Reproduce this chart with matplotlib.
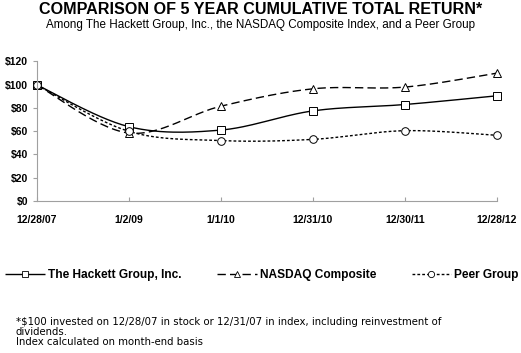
import numpy as np
import matplotlib
matplotlib.use("Agg")
import matplotlib.pyplot as plt
from matplotlib.lines import Line2D

dates = ["12/28/07", "1/2/09", "1/1/10", "12/31/10", "12/30/11", "12/28/12"]
hackett = [100, 64, 61, 77.5, 83, 90.5]
nasdaq = [100, 58.5, 81.5, 96.5, 98, 110]
peer = [100, 60, 52, 53, 60.5, 56.5]
yticks = [0, 20, 40, 60, 80, 100, 120]


def smooth(xs, ys, n=30):
    xs = np.asarray(xs, float)
    ys = np.asarray(ys, float)
    px = np.concatenate([[xs[0]], xs, [xs[-1]]])
    py = np.concatenate([[ys[0]], ys, [ys[-1]]])
    ox, oy = [], []
    for i in range(1, len(px) - 2):
        p0x, p1x, p2x, p3x = px[i - 1], px[i], px[i + 1], px[i + 2]
        p0y, p1y, p2y, p3y = py[i - 1], py[i], py[i + 1], py[i + 2]
        c1x = p1x + (p2x - p0x) / 6
        c1y = p1y + (p2y - p0y) / 6
        c2x = p2x - (p3x - p1x) / 6
        c2y = p2y - (p3y - p1y) / 6
        t = np.linspace(0, 1, n)
        bx = (1 - t) ** 3 * p1x + 3 * (1 - t) ** 2 * t * c1x + 3 * (1 - t) * t ** 2 * c2x + t ** 3 * p2x
        by = (1 - t) ** 3 * p1y + 3 * (1 - t) ** 2 * t * c1y + 3 * (1 - t) * t ** 2 * c2y + t ** 3 * p2y
        ox.extend(bx)
        oy.extend(by)
    return np.array(ox), np.array(oy)


fig = plt.figure(figsize=(5.21, 3.53), dpi=100)
ax = fig.add_axes([36.5 / 521, 1 - 201 / 353, (497 - 36.5) / 521, (201 - 61.5) / 353])

x = np.arange(len(dates))
series = [
    (hackett, "The Hackett Group, Inc.", "s", (0, ()), ),
    (nasdaq, "NASDAQ Composite", "^", (0, (6, 3))),
    (peer, "Peer Group", "o", (0, (2, 1.5))),
]
handles = []
for vals, lab, mk, ls in series:
    sx, sy = smooth(x, vals)
    ax.plot(sx, sy, color="black", lw=1.0, linestyle=ls)
    ax.plot(x, vals, linestyle="none", marker=mk, markersize=5.5, markerfacecolor="white",
            markeredgecolor="black", markeredgewidth=0.7)
    handles.append(Line2D([0], [0], color="black", lw=1.0, linestyle=ls, marker=mk,
                          markersize=4.5, markerfacecolor="white", markeredgecolor="black",
                          markeredgewidth=0.6))

ax.set_xlim(0, len(dates) - 1)
ax.set_ylim(0, 120)
ax.set_yticks(yticks)
ax.set_yticklabels(["$%d" % v for v in yticks])
ax.set_xticks(x)
ax.set_xticklabels(dates)
for s in ["top", "right"]:
    ax.spines[s].set_visible(False)
for s in ["left", "bottom"]:
    ax.spines[s].set_color("#a0a0a0")
    ax.spines[s].set_linewidth(0.8)
ax.tick_params(axis="y", direction="out", length=3, color="#a0a0a0", pad=3)
ax.tick_params(axis="x", direction="in", length=3, color="#a0a0a0", pad=10)
for lbl in ax.get_xticklabels() + ax.get_yticklabels():
    lbl.set_fontfamily("Liberation Sans")
    lbl.set_fontweight("bold")
    lbl.set_fontsize(7.5)
for ln in ax.lines:
    ln.set_clip_on(False)

fig.text(0.5, 1 - 10 / 353, "COMPARISON OF 5 YEAR CUMULATIVE TOTAL RETURN*", ha="center", va="center",
         fontfamily="Liberation Sans", fontweight="bold", fontsize=11.6)
fig.text(0.5, 1 - 25 / 353, "Among The Hackett Group, Inc., the NASDAQ Composite Index, and a Peer Group",
         ha="center", va="center", fontfamily="Liberation Sans", fontsize=8.4)

leg = fig.legend(handles, [s[1] for s in series], loc="center", bbox_to_anchor=(262 / 521, 1 - 275 / 353),
                 ncol=3, frameon=False, handlelength=3.3, handletextpad=0.25, columnspacing=3.0,
                 borderpad=0, borderaxespad=0,
                 prop={"family": "Liberation Sans", "weight": "bold", "size": 8.6})

fig.text(16 / 521, 1 - 317 / 353,
         "*$100 invested on 12/28/07 in stock or 12/31/07 in index, including reinvestment of\ndividends.\nIndex calculated on month-end basis",
         ha="left", va="top", fontfamily="DejaVu Sans", fontsize=7.3, linespacing=1.0)

fig.savefig("out.png", dpi=100)
